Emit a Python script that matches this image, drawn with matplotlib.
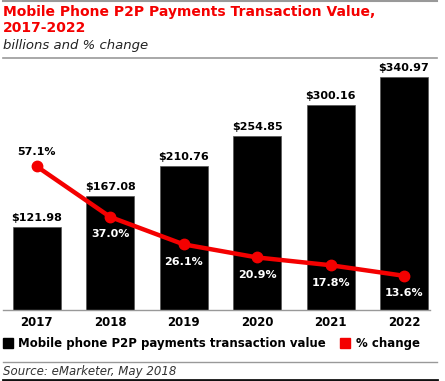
import matplotlib
matplotlib.use("Agg")
import matplotlib.pyplot as plt
from matplotlib.lines import Line2D
from matplotlib.patches import Rectangle

years = ["2017", "2018", "2019", "2020", "2021", "2022"]
values = [121.98, 167.08, 210.76, 254.85, 300.16, 340.97]
pct_change = [57.1, 37.0, 26.1, 20.9, 17.8, 13.6]
value_labels = ["$121.98", "$167.08", "$210.76", "$254.85", "$300.16", "$340.97"]
pct_labels = ["57.1%", "37.0%", "26.1%", "20.9%", "17.8%", "13.6%"]

RED = "#f40000"
W, H = 445, 381
fig = plt.figure(figsize=(W / 100, H / 100), dpi=100)
plt.rcParams['font.family'] = ['DejaVu Sans']

def fx(px):
    return px / W

def fy(py):
    return 1 - py / H

# axes from pixel x 3..430, y 60..310
ax = fig.add_axes([fx(3), fy(310), fx(427), (310 - 60) / H])
x = list(range(len(years)))
ax.bar(x, values, width=0.654, color="black", edgecolor="#555555", linewidth=0.5, zorder=2)
ax.set_xlim(-0.459, 5.354)
ax.set_ylim(0, 250 / 0.683)
for s in ["top", "right", "left"]:
    ax.spines[s].set_visible(False)
ax.spines["bottom"].set_color("#999999")
ax.spines["bottom"].set_linewidth(1.0)
ax.set_yticks([])
ax.set_xticks(x)
ax.set_xticklabels(years, fontsize=8.5, fontweight="bold")
ax.tick_params(axis="x", length=0, pad=4)

for xi, v, lab in zip(x, values, value_labels):
    ax.annotate(lab, (xi, v), xytext=(0, 3), textcoords="offset points",
                ha="center", va="bottom", fontsize=8, fontweight="bold", color="black")

ax2 = ax.twinx()
ax2.set_ylim(0, 250 / 2.515)
ax2.plot(x, pct_change, color=RED, linewidth=3.2, marker="o", markersize=7.5,
         solid_capstyle="round", zorder=3)
for s in ["top", "right", "left", "bottom"]:
    ax2.spines[s].set_visible(False)
ax2.set_yticks([])
for i, (xi, p, lab) in enumerate(zip(x, pct_change, pct_labels)):
    if i == 0:
        ax2.annotate(lab, (xi, p), xytext=(0, 7), textcoords="offset points",
                     ha="center", va="bottom", fontsize=8, fontweight="bold", color="black")
    else:
        ax2.annotate(lab, (xi, p), xytext=(0, -9), textcoords="offset points",
                     ha="center", va="top", fontsize=8, fontweight="bold", color="white")

# Titles
fig.text(fx(3), fy(12), "Mobile Phone P2P Payments Transaction Value,", color=RED,
         fontsize=10, fontweight="bold", ha="left", va="center")
fig.text(fx(3), fy(28), "2017-2022", color=RED,
         fontsize=10, fontweight="bold", ha="left", va="center")
fig.text(fx(3), fy(45), "billions and % change", color="#222222",
         fontsize=9.5, style="italic", ha="left", va="center")

# horizontal rules
for py, col, lw in [(0.5, "#999999", 1.5), (58, "#999999", 1.2), (362, "#999999", 1.0), (380, "#111111", 2.0)]:
    fig.add_artist(Line2D([fx(3), fx(437)], [fy(py), fy(py)], color=col, linewidth=lw))

# Legend
fig.add_artist(Rectangle((fx(3), fy(348)), fx(10), 10 / H, color="black"))
fig.text(fx(18), fy(343), "Mobile phone P2P payments transaction value", fontsize=8.5,
         fontweight="bold", ha="left", va="center")
fig.add_artist(Rectangle((fx(340), fy(348)), fx(10), 10 / H, color=RED))
fig.text(fx(356), fy(343), "% change", fontsize=8.5,
         fontweight="bold", ha="left", va="center")

fig.text(fx(3), fy(371), "Source: eMarketer, May 2018", fontsize=8.5, style="italic",
         color="#333333", ha="left", va="center")

fig.savefig("out.png", dpi=100)
